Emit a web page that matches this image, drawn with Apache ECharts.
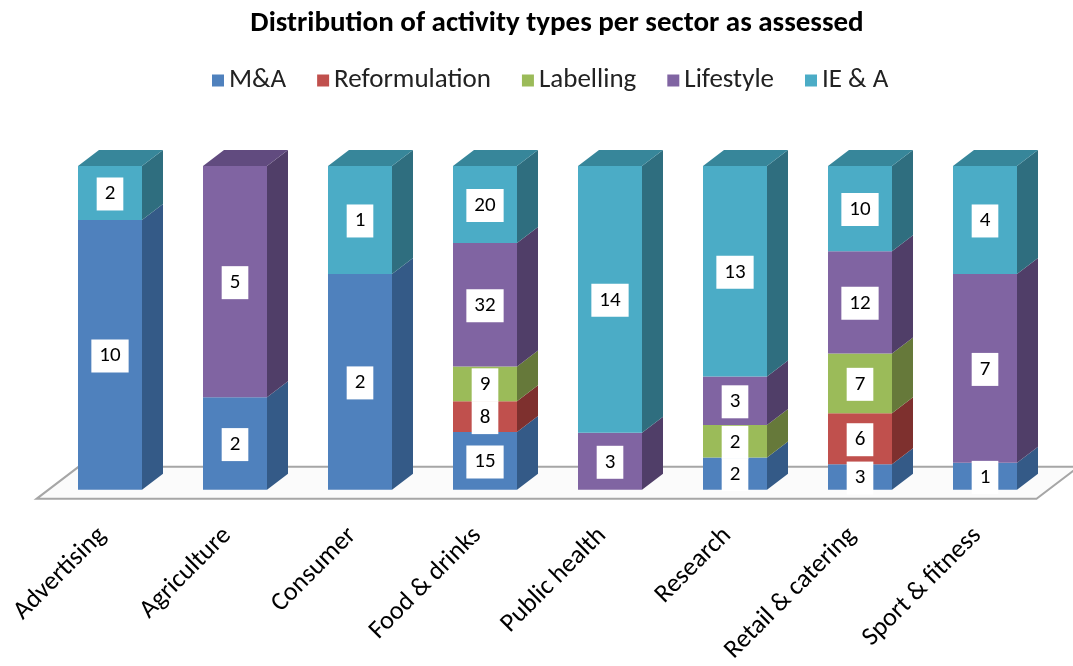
<!DOCTYPE html>
<html>
<head>
<meta charset="utf-8">
<title>Distribution of activity types per sector</title>
<script src="https://cdn.jsdelivr.net/npm/echarts@6/dist/echarts.min.js"></script>
<style>
  html, body { margin: 0; padding: 0; background: #fff; }
  #chart { width: 1073px; height: 666px; }
</style>
</head>
<body>
<div id="chart"></div>
<script>
var sectors = ['Advertising', 'Agriculture', 'Consumer', 'Food & drinks', 'Public health', 'Research', 'Retail & catering', 'Sport & fitness'];
var seriesNames = ['M&A', 'Reformulation', 'Labelling', 'Lifestyle', 'IE & A'];
var mAndA        = [10, 2, 2, 15, 0, 2, 3, 1];
var reformulation = [0, 0, 0, 8, 0, 0, 6, 0];
var labelling    = [0, 0, 0, 9, 0, 2, 7, 0];
var lifestyle    = [0, 5, 0, 32, 3, 3, 12, 7];
var ieA          = [2, 0, 1, 20, 14, 13, 10, 4];

var frontColors = ['#4F81BD', '#C0504D', '#9BBB59', '#8064A2', '#4BACC6'];
var sideColors  = ['#345A87', '#7E302E', '#66793A', '#503E68', '#2F6E7F'];
var topColors   = ['#3E6898', '#973F3D', '#7A9446', '#614B7F', '#37869A'];

var FONT = 'Carlito, Lato, sans-serif';
var DX = 21, DY = 16;

var allSeries = [mAndA, reformulation, labelling, lifestyle, ieA];

// 100% stacked: turn counts into start/end percent per sector
var totals = sectors.map(function (s, i) {
  var t = 0;
  allSeries.forEach(function (arr) { t += arr[i]; });
  return t;
});
var lastNonZero = sectors.map(function (s, i) {
  var last = -1;
  allSeries.forEach(function (arr, k) { if (arr[i] > 0) last = k; });
  return last;
});
var stackData = allSeries.map(function () { return []; });
sectors.forEach(function (s, i) {
  var acc = 0;
  allSeries.forEach(function (arr, k) {
    if (arr[i] > 0) {
      var start = acc / totals[i] * 100;
      acc += arr[i];
      var end = acc / totals[i] * 100;
      stackData[k].push([i, start, end, arr[i], lastNonZero[i] === k ? 1 : 0]);
    }
  });
});

function makeRender(k) {
  return function (params, api) {
    var i = api.value(0);
    var p0 = api.coord([i, api.value(1)]);
    var p1 = api.coord([i, api.value(2)]);
    var raw = api.value(3);
    var isTop = api.value(4);
    var bw = api.size([1, 0])[0] * 0.512;
    var x0 = p0[0] - bw / 2, x1 = p0[0] + bw / 2;
    var yb = p0[1], yt = p1[1];
    var children = [
      { type: 'rect', shape: { x: x0, y: yt, width: bw, height: yb - yt },
        style: { fill: frontColors[k] } },
      { type: 'polygon', shape: { points: [[x1, yb], [x1 + DX, yb - DY], [x1 + DX, yt - DY], [x1, yt]] },
        style: { fill: sideColors[k] } }
    ];
    if (isTop) {
      children.push({ type: 'polygon',
        shape: { points: [[x0, yt], [x1, yt], [x1 + DX, yt - DY], [x0 + DX, yt - DY]] },
        style: { fill: topColors[k] } });
    }
    children.push({ type: 'text', z2: 100,
      style: { text: String(raw), x: p0[0], y: (yb + yt) / 2 + 1, align: 'center', verticalAlign: 'middle',
        fontFamily: FONT, fontSize: 21, fill: '#000', backgroundColor: '#fff', padding: [7, 8, 5, 8] } });
    return { type: 'group', children: children };
  };
}

var series = [{
  type: 'custom',
  name: 'floor',
  silent: true,
  z: 1,
  renderItem: function (params, api) {
    if (params.dataIndex > 0) return;
    var cs = params.coordSys;
    var yf = cs.y + cs.height + 9;
    var xl = cs.x - 11, xr = cs.x + cs.width - 11;
    return { type: 'polygon',
      shape: { points: [[xl, yf], [xr, yf], [xr + 42, yf - 32], [xl + 42, yf - 32]] },
      style: { fill: '#FBFBFB', stroke: '#A6A6A6', lineWidth: 2 } };
  },
  data: [[0, 0]]
}];
seriesNames.forEach(function (name, k) {
  series.push({
    type: 'custom',
    name: name,
    z: 2,
    itemStyle: { color: frontColors[k] },
    renderItem: makeRender(k),
    encode: { x: 0, y: [1, 2] },
    data: stackData[k]
  });
});

var myChart = echarts.init(document.getElementById('chart'));
var option = {
  animation: false,
  title: {
    text: 'Distribution of activity types per sector as assessed',
    left: 552,
    textAlign: 'center',
    top: 4,
    textStyle: { fontFamily: FONT, fontSize: 29, fontWeight: 'bold', color: '#000' }
  },
  legend: {
    data: seriesNames,
    left: 207,
    top: 62,
    itemWidth: 12,
    itemHeight: 12,
    itemGap: 31,
    icon: 'rect',
    textStyle: { fontFamily: FONT, fontSize: 27, color: '#222' }
  },
  grid: { left: 47.5, right: 25.5, top: 166, bottom: 174 },
  xAxis: {
    type: 'category',
    data: sectors,
    axisLine: { show: false },
    axisTick: { show: false },
    axisLabel: { rotate: 45, margin: 34, padding: [0, 11, 0, 0], interval: 0, fontFamily: FONT, fontSize: 26, color: '#000' }
  },
  yAxis: {
    type: 'value',
    min: 0,
    max: 100,
    show: false,
    splitLine: { show: false }
  },
  series: series
};

if (option && typeof option === 'object') {
  myChart.setOption(option);
}
window.addEventListener('resize', myChart.resize);
</script>
</body>
</html>
